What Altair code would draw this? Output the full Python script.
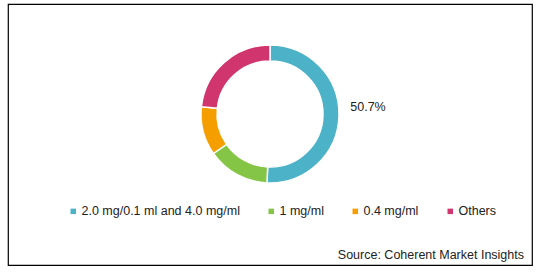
import altair as alt
import pandas as pd

categories = ["2.0 mg/0.1 ml and 4.0 mg/ml", "1 mg/ml", "0.4 mg/ml", "Others"]
shares = [50.7, 14.6, 11.4, 23.3]
labels = ["50.7%", "", "", ""]
colors = ["#4BB2C7", "#85C546", "#F59E00", "#D1356D"]
source_text = "Source: Coherent Market Insights"

df = pd.DataFrame({"cat": categories, "share": shares, "label": labels,
                   "order": list(range(len(categories)))})

W, H = 524, 261
CY = 110
FONT = "Liberation Sans"

base = alt.Chart(df).encode(
    theta=alt.Theta("share:Q", stack=True),
    order=alt.Order("order:Q"),
)

arcs = base.mark_arc(outerRadius=69, innerRadius=53, stroke="white", strokeWidth=1.5).encode(
    y=alt.value(CY),
    color=alt.Color(
        "cat:N",
        scale=alt.Scale(domain=categories, range=colors),
        sort=categories,
        legend=alt.Legend(
            title=None, orient="none", direction="horizontal",
            legendX=59, legendY=201, symbolType="square", symbolSize=30,
            symbolStrokeWidth=0, labelFont=FONT, labelFontSize=12.5,
            labelColor="#222", labelOffset=2, columnPadding=25, padding=0,
        ),
    ),
)

text = base.mark_text(radius=98, font=FONT, fontSize=12.5, color="#222", dy=-9).encode(
    y=alt.value(CY),
    text="label:N",
)

src = alt.Chart(pd.DataFrame({"t": [source_text]})).mark_text(
    align="right", baseline="middle", font=FONT, fontSize=12.5, color="#222"
).encode(x=alt.value(W - 8), y=alt.value(H - 10), text="t:N")

chart = alt.layer(arcs, text, src).properties(
    width=W, height=H,
    padding={"left": 8, "top": 4, "right": 6, "bottom": 7},
    autosize=alt.AutoSizeParams(type="none"),
    background="white",
).configure_view(stroke="black", strokeWidth=1.2)

chart.save("out.html", embed_options={"renderer": "svg", "actions": False})
